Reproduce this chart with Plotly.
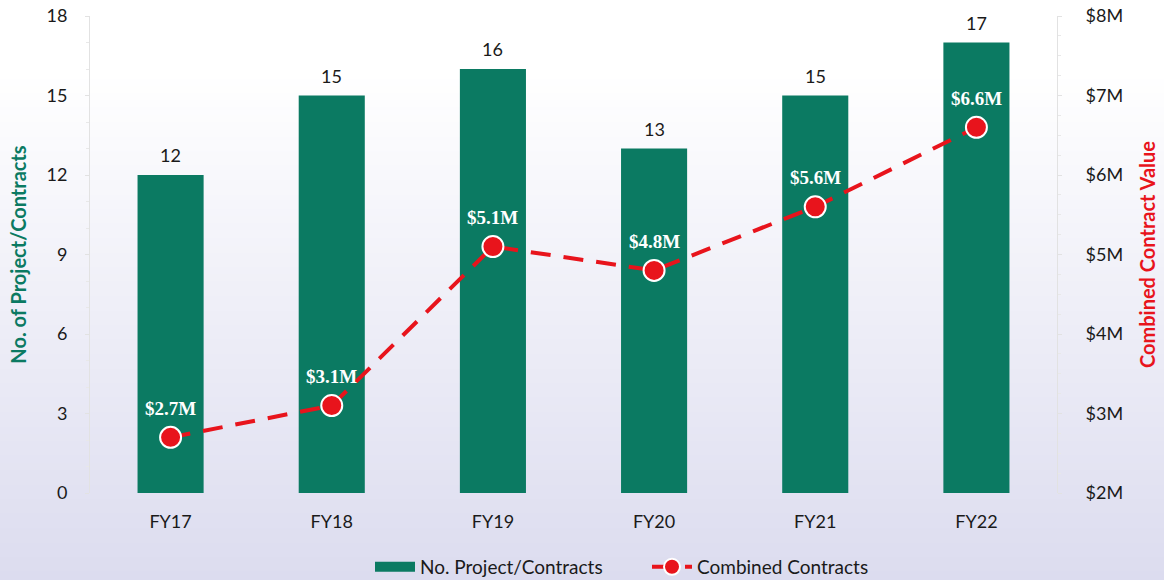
import plotly.graph_objects as go

categories = ["FY17", "FY18", "FY19", "FY20", "FY21", "FY22"]
num_contracts = [12, 15, 16, 13, 15, 17]
contract_value_m = [2.7, 3.1, 5.1, 4.8, 5.6, 6.6]
value_labels = ["$2.7M", "$3.1M", "$5.1M", "$4.8M", "$5.6M", "$6.6M"]
left_ticks = [0, 3, 6, 9, 12, 15, 18]
right_ticks = [2, 3, 4, 5, 6, 7, 8]
right_tick_labels = ["$2M", "$3M", "$4M", "$5M", "$6M", "$7M", "$8M"]

GREEN = "#0b7a62"
RED = "#e8141c"
FONT = "Lato"

fig = go.Figure()

fig.add_trace(go.Bar(
    x=categories, y=num_contracts, name="No. Project/Contracts",
    marker=dict(color=GREEN, line=dict(width=0)),
    width=0.41, showlegend=False,
))

# legend-only swatch for the bars (wide rectangle like the reference)
fig.add_trace(go.Scatter(
    x=[None], y=[None], name="No. Project/Contracts", mode="lines",
    line=dict(color=GREEN, width=14), showlegend=True,
))

fig.add_trace(go.Scatter(
    x=categories, y=contract_value_m, name="Combined Contracts", yaxis="y2",
    mode="lines+markers",
    line=dict(color=RED, width=4, dash="20px,13px"),
    marker=dict(color=RED, size=21, line=dict(color="white", width=2)),
    cliponaxis=False,
))

annotations = []
for c, n_ in zip(categories, num_contracts):
    annotations.append(dict(
        x=c, y=n_, xref="x", yref="y", text=str(n_),
        showarrow=False, yshift=20,
        font=dict(family=FONT, size=18, color="#1a1a1a"),
    ))
for c, v, t in zip(categories, contract_value_m, value_labels):
    annotations.append(dict(
        x=c, y=v, xref="x", yref="y2", text="<b>" + t + "</b>",
        showarrow=False, yshift=29,
        font=dict(family="Liberation Serif", size=19, color="white"),
    ))

# background gradient (white at top to lavender at bottom)
shapes = []
n = 80
top_px, bot_px = 16, 493
h = bot_px - top_px
y_canvas_top = 1 + top_px / h
y_canvas_bot = -(580 - bot_px) / h
start_frac = 0.12
for i in range(n):
    y0 = y_canvas_top - (y_canvas_top - y_canvas_bot) * i / n
    y1 = y_canvas_top - (y_canvas_top - y_canvas_bot) * (i + 1) / n
    f = i / (n - 1)
    t = max(0.0, (f - start_frac) / (1 - start_frac))
    r = round(255 - t * 35)
    g = round(255 - t * 35)
    b = round(255 - t * 16)
    shapes.append(dict(
        type="rect", xref="paper", yref="paper",
        x0=-0.2, x1=1.2, y0=y1, y1=y0 + 0.002,
        fillcolor=f"rgb({r},{g},{b})", line=dict(width=0), layer="below",
    ))

fig.update_layout(
    width=1164, height=580,
    margin=dict(l=90, r=107, t=16, b=87, autoexpand=False),
    paper_bgcolor="white", plot_bgcolor="rgba(0,0,0,0)",
    font=dict(family=FONT, size=17, color="#1a1a1a"),
    shapes=shapes,
    annotations=annotations,
    showlegend=True,
    legend=dict(
        orientation="h", x=(370 - 90) / 967, xanchor="left", y=-0.155, yanchor="middle",
        font=dict(family=FONT, size=19, color="#1a1a1a"),
        bgcolor="rgba(0,0,0,0)", itemwidth=40, tracegroupgap=0,
        entrywidth=222, entrywidthmode="pixels",
    ),
    xaxis=dict(
        range=[-0.5, 5.5], showgrid=False, zeroline=False, automargin=False,
        showline=False, ticks="", ticklabelstandoff=16,
        tickfont=dict(family=FONT, size=18, color="#1a1a1a"),
    ),
    yaxis=dict(
        range=[0, 18], tickvals=left_ticks, showgrid=False, zeroline=False,
        automargin=False,
        showline=True, linecolor="#e2e2e2", linewidth=1,
        ticks="outside", ticklen=4, tickcolor="#e2e2e2",
        minor=dict(dtick=1, ticks="outside", ticklen=3, tickcolor="#e8e8e8"),
        ticklabelstandoff=14,
        tickfont=dict(family=FONT, size=18, color="#1a1a1a"),
        title=dict(text="<b>No. of Project/Contracts</b>", standoff=14,
                   font=dict(family=FONT, size=20, color=GREEN)),
    ),
    yaxis2=dict(
        overlaying="y", side="right", range=[2, 8],
        tickvals=right_ticks, ticktext=right_tick_labels,
        showgrid=False, zeroline=False, automargin=False,
        showline=True, linecolor="#e2e2e2", linewidth=1,
        ticks="outside", ticklen=4, tickcolor="#e2e2e2",
        minor=dict(dtick=0.25, ticks="outside", ticklen=3, tickcolor="#e8e8e8"),
        ticklabelstandoff=20,
        tickfont=dict(family=FONT, size=18, color="#1a1a1a"),
        title=dict(text="<b>Combined Contract Value</b>", standoff=18,
                   font=dict(family=FONT, size=20, color=RED)),
    ),
)

fig.write_html("out.html", config={"displayModeBar": False},
               post_script="document.body.style.margin='0';")
